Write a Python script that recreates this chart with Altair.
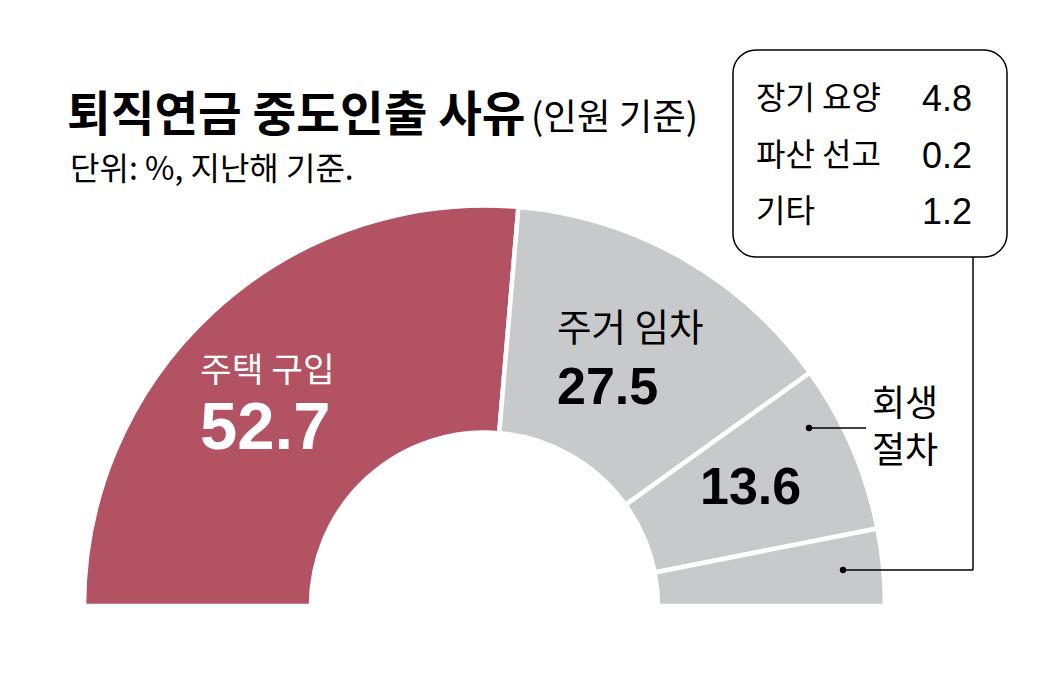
import math
import altair as alt
import pandas as pd

# ---- data ----
categories = ["주택 구입", "주거 임차", "회생 절차", "기타 사유"]
shares = [52.7, 27.5, 13.6, 6.2]
colors = ["#B35263", "#C8C9CB", "#C8C9CB", "#C8C9CB"]
box_labels = ["장기 요양", "파산 선고", "기타"]
box_values = [4.8, 0.2, 1.2]

title_main = "퇴직연금 중도인출 사유"
title_paren = "(인원 기준)"
subtitle = "단위: %, 지난해 기준."

KR = "Noto Sans CJK KR"
NUM = "Liberation Sans"
OFF = 8  # page margin


def P(v):
    return v - OFF


arc_df = pd.DataFrame({"cat": categories, "value": shares, "order": list(range(len(categories)))})

arc = alt.Chart(arc_df).mark_arc(
    innerRadius=173.5, outerRadius=400.5, stroke="white", strokeWidth=4.5
).encode(
    theta=alt.Theta("value:Q", stack=True, scale=alt.Scale(range=[-math.pi / 2, math.pi / 2])),
    color=alt.Color("cat:N", scale=alt.Scale(domain=categories, range=colors), legend=None),
    order=alt.Order("order:Q"),
    x=alt.value(P(484.5)),
    y=alt.value(P(606)),
)

one = pd.DataFrame({"a": [0]})


def text(t, x, y, size, weight="normal", color="black", font=KR, align="left"):
    return alt.Chart(one).mark_text(
        text=t, fontSize=size, fontWeight=weight, color=color, font=font,
        align=align, baseline="middle"
    ).encode(x=alt.value(P(x)), y=alt.value(P(y)))


def rule(x1, y1, x2, y2):
    return alt.Chart(one).mark_rule(color="black", strokeWidth=1.5).encode(
        x=alt.value(P(x1)), y=alt.value(P(y1)), x2=alt.value(P(x2)), y2=alt.value(P(y2))
    )


def fmt(v):
    return f"{v:.1f}"


layers = [arc]

# titles
layers.append(text(title_main, 67, 117, 47.5, weight="bold"))
layers.append(text(title_paren, 531, 119, 36.5))
layers.append(text(subtitle, 70, 170, 32))

# segment labels
layers.append(text(categories[0], 200, 372, 34.5, color="white"))
layers.append(text(fmt(shares[0]), 200, 429, 67, weight="bold", color="white", font=NUM))
layers.append(text(categories[1], 557, 330, 37.5))
layers.append(text(fmt(shares[1]), 557, 388, 52, weight="bold", font=NUM))
layers.append(text(fmt(shares[2]), 700, 488, 52, weight="bold", font=NUM))
lab3 = categories[2].split(" ")
layers.append(text(lab3[0], 872, 405, 36))
layers.append(text(lab3[1], 872, 452, 36))

# box
box = alt.Chart(one).mark_rect(
    fillOpacity=0, stroke="black", strokeWidth=1.5, cornerRadius=23
).encode(
    x=alt.value(P(733)), x2=alt.value(P(1007)), y=alt.value(P(50)), y2=alt.value(P(257))
)
layers.append(box)
row_y = [99, 156, 212]
for lab, val, yy in zip(box_labels, box_values, row_y):
    layers.append(text(lab, 756, yy, 32))
    layers.append(text(fmt(val), 972, yy + 1, 36, font=NUM, align="right"))

# leader lines
layers.append(rule(973, 257, 973, 570))
layers.append(rule(973, 570, 843, 570))
layers.append(rule(809, 428, 866, 428))
dots = alt.Chart(one).mark_circle(color="black", opacity=1, size=40)
layers.append(dots.encode(x=alt.value(P(843)), y=alt.value(P(570))))
layers.append(dots.encode(x=alt.value(P(809)), y=alt.value(P(428))))

chart = alt.layer(*layers).properties(
    width=1047, height=660, padding=0, background="white",
    autosize=alt.AutoSizeParams(type="none")
).configure_view(stroke=None)

chart.save("out.html", embed_options={"renderer": "svg", "actions": False})
